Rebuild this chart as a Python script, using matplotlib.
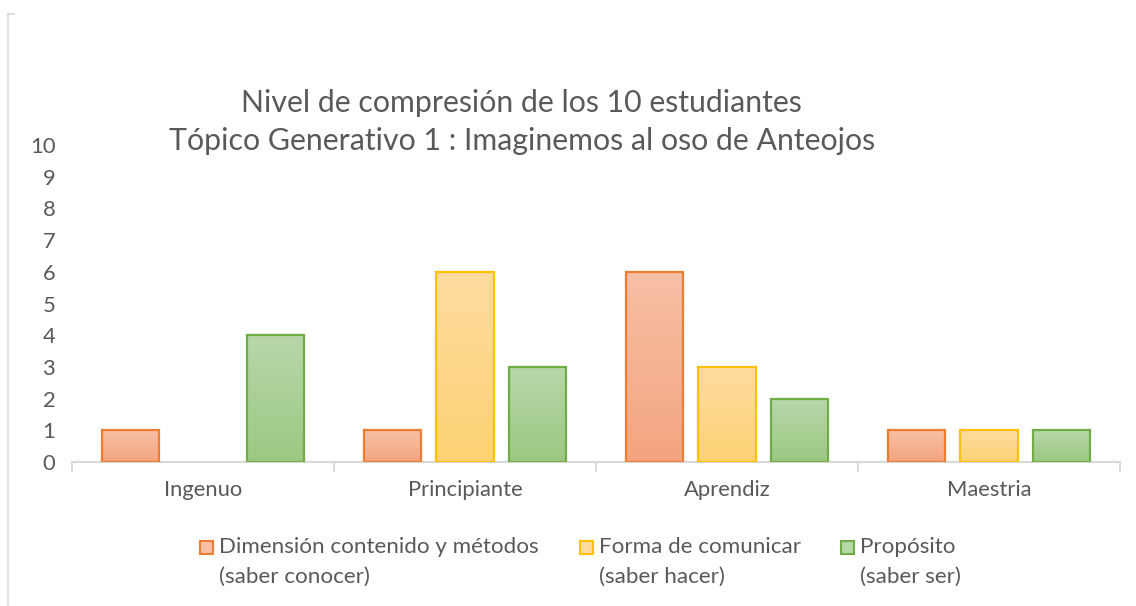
import numpy as np
import matplotlib
matplotlib.use("Agg")
import matplotlib.pyplot as plt
from matplotlib.patches import Rectangle
from matplotlib.colors import LinearSegmentedColormap

categories = ["Ingenuo", "Principiante", "Aprendiz", "Maestria"]
series_names = ["Dimensión contenido y métodos\n(saber conocer)",
                "Forma de comunicar\n(saber hacer)",
                "Propósito\n(saber ser)"]
values = [
    [1, 1, 6, 1],
    [0, 6, 3, 1],
    [4, 3, 2, 1],
]
title_lines = ["Nivel de compresión de los 10 estudiantes",
               "Tópico Generativo 1 : Imaginemos al oso de Anteojos"]
yticks = list(range(0, 11))

edge_colors = ["#ED7D31", "#FFC000", "#70AD47"]
grad_top = ["#F7C0A6", "#FEDCA0", "#B7D7A9"]
grad_bot = ["#F4A47F", "#FDD274", "#9CC883"]

plt.rcParams['font.family'] = ['Lato', 'DejaVu Sans']
txt = "#595959"

fig = plt.figure(figsize=(11.36, 6.06), dpi=100)
ax = fig.add_axes([72/1136, 144/606, 1048/1136, 317/606])

x = np.arange(len(categories))
bw = 0.22
offs = [-0.277, 0.0, 0.277]
for i, vals in enumerate(values):
    bars = ax.bar(x + offs[i], vals, width=bw, facecolor="none",
                  edgecolor=edge_colors[i], linewidth=1.6, zorder=3)
    cmap = LinearSegmentedColormap.from_list("g%d" % i, [grad_bot[i], grad_top[i]])
    for b, v in zip(bars, vals):
        if v <= 0:
            b.set_visible(False)
            continue
        x0 = b.get_x(); w = b.get_width()
        grad = np.linspace(0, 1, 100).reshape(-1, 1)
        im = ax.imshow(grad, extent=[x0, x0 + w, 0, v], origin="lower",
                       cmap=cmap, aspect="auto", zorder=2)
        im.set_clip_path(b)

ax.set_xlim(-0.5, len(categories) - 0.5)
ax.set_ylim(0, 10)
ax.set_yticks(yticks)
ax.set_xticks(x)
ax.set_xticklabels(categories)
ax.set_xticks(np.arange(-0.5, len(categories)), minor=True)
ax.tick_params(axis="x", which="major", length=0, pad=13, labelsize=15.8, labelcolor=txt)
ax.tick_params(axis="x", which="minor", length=7, width=1.3, color="#D9D9D9")
ax.tick_params(axis="y", length=0, pad=12, labelsize=15.8, labelcolor=txt)
for s in ["top", "right", "left"]:
    ax.spines[s].set_visible(False)
ax.spines["bottom"].set_color("#D9D9D9")
ax.spines["bottom"].set_linewidth(1.5)

fig.text(521/1136, 1 - 103/606, title_lines[0], ha="center", va="center",
         fontsize=21.8, color=txt)
fig.text(522/1136, 1 - 141/606, title_lines[1], ha="center", va="center",
         fontsize=21.8, color=txt)

# legend
leg_x = [200, 580, 841]
for i, name in enumerate(series_names):
    r = Rectangle((leg_x[i]/1136, 1 - 554/606), 13/1136, 13/606,
                  transform=fig.transFigure, facecolor=grad_top[i],
                  edgecolor=edge_colors[i], linewidth=1.5)
    fig.add_artist(r)
    l1, l2 = name.split("\n")
    fig.text((leg_x[i] + 19)/1136, 1 - 547/606, l1, ha="left", va="center",
             fontsize=16.1, color=txt)
    fig.text((leg_x[i] + 19)/1136, 1 - 577/606, l2, ha="left", va="center",
             fontsize=16.1, color=txt)

# chart border fragment
fig.add_artist(plt.Line2D([8/1136, 8/1136], [0, 1 - 14/606], transform=fig.transFigure,
                          color="#D9D9D9", linewidth=1.2))
fig.add_artist(plt.Line2D([8/1136, 14/1136], [1 - 14/606, 1 - 14/606], transform=fig.transFigure,
                          color="#D9D9D9", linewidth=1.2))

fig.savefig("out.png", dpi=100)
